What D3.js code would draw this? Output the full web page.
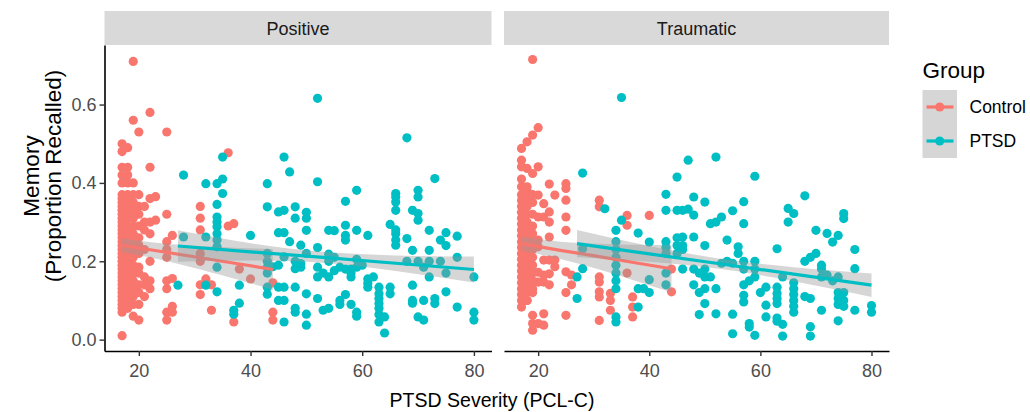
<!DOCTYPE html>
<html lang="en">
  <head>
    <meta charset="UTF-8" />
    <title>Memory by PTSD Severity</title>
    <style>
      body { margin: 0; background: #fff; }
      svg { display: block; font-family: 'Liberation Sans', Arial, sans-serif; }
      .tick-label { fill: #4d4d4d; font-size: 18px; }
    </style>
  </head>
  <body>
    <svg width="1030" height="412"></svg>
    <script src="https://d3js.org/d3.v7.min.js"></script>
    <script>
      // facets, groups, ticks
      const facets = ['Positive', 'Traumatic'];
      const groups = ['Control', 'PTSD'];
      const groupColors = ['#F8766D', '#00BFC4'];
      const xTicks = [20, 40, 60, 80];
      const yTicks = [0, 0.2, 0.4, 0.6];

      // points: [PCL-C, proportion recalled]
      const posControl = [
        [17,0.50],[17,0.48],[17,0.44],[17,0.42],[17,0.40],[17,0.37],[17,0.36],[17,0.35],[17,0.34],[17,0.33],
        [17,0.32],[17,0.31],[17,0.30],[17,0.29],[17,0.28],[17,0.27],[17,0.26],[17,0.25],[17,0.24],[17,0.23],
        [17,0.22],[17,0.21],[17,0.20],[17,0.19],[17,0.18],[17,0.17],[17,0.16],[17,0.15],[17,0.14],[17,0.13],
        [17,0.12],[17,0.11],[17,0.10],[17,0.09],[17,0.08],[17,0.07],[17,0.01],
        [18,0.49],[18,0.44],[18,0.42],[18,0.40],[18,0.37],[18,0.355],[18,0.34],[18,0.325],[18,0.31],[18,0.29],
        [18,0.275],[18,0.26],[18,0.245],[18,0.23],[18,0.215],[18,0.20],[18,0.185],[18,0.17],[18,0.155],[18,0.14],
        [18,0.125],[18,0.11],[18,0.095],[18,0.08],
        [19,0.71],[19,0.56],[19,0.40],[19,0.37],[19,0.35],[19,0.33],[19,0.31],[19,0.29],[19,0.27],[19,0.25],
        [19,0.23],[19,0.21],[19,0.19],[19,0.17],[19,0.15],[19,0.13],[19,0.11],[19,0.09],[19,0.06],
        [20,0.53],[20,0.37],[20,0.34],[20,0.32],[20,0.29],[20,0.26],[20,0.24],[20,0.22],[20,0.185],[20,0.17],
        [20,0.14],[20,0.12],[20,0.09],[20,0.05],
        [21,0.34],[21,0.30],[21,0.28],[21,0.23],[21,0.16],[21,0.14],[21,0.11],
        [22,0.58],[22,0.44],[22,0.36],[22,0.30],[22,0.27],[22,0.20],[22,0.15],[22,0.13],
        [23,0.365],[23,0.305],
        [25,0.53],[25,0.32],[25,0.25],[25,0.23],[25,0.21],[25,0.15],[25,0.13],[25,0.07],[25,0.05],
        [26,0.266],[26,0.156],[26,0.085],[26,0.07],
        [31,0.34],[31,0.31],[31,0.28],[31,0.22],[31,0.20],[31,0.14],[31,0.115],
        [32,0.155],[33,0.14],[33,0.075],
        [36,0.477],[36,0.29],[37,0.296],[37,0.045],[38,0.18],[40,0.155],
        [44,0.145],[44,0.07],[44,0.05]
      ];

      const posPTSD = [
        [27,0.139],[28,0.42],[28,0.262],[32,0.398],[32,0.262],[32,0.139],[34,0.398],[35,0.41],[35,0.466],[35,0.373],
        [34,0.345],[34,0.313],[34,0.30],[34,0.288],[34,0.27],[34,0.254],[34,0.237],[34,0.185],[34,0.122],[37,0.075],
        [37,0.065],[38,0.139],[38,0.093],[40,0.266],[43,0.398],[43,0.339],[43,0.22],[43,0.20],[43,0.185],[43,0.17],
        [43,0.134],[43,0.116],[44,0.186],[45,0.326],[46,0.33],[45,0.273],[46,0.273],[46,0.466],[47,0.428],[48,0.339],
        [48,0.31],[47,0.25],[45,0.19],[45,0.134],[46,0.134],[45,0.10],[46,0.10],[46,0.045],[48,0.181],[49,0.194],
        [48,0.134],[48,0.08],[48,0.07],[50,0.279],[50,0.325],[50,0.31],[49,0.241],[50,0.117],[50,0.065],[50,0.037],
        [52,0.616],[52,0.403],[52,0.235],[52,0.185],[52,0.16],[52,0.105],[53,0.17],[54,0.16],[53,0.075],[54,0.08],
        [54,0.218],[54,0.20],[54,0.279],[55,0.21],[55,0.176],[57,0.353],[57,0.292],[57,0.266],[57,0.254],[56,0.185],
        [56,0.10],[57,0.115],[57,0.18],[58,0.18],[58,0.16],[58,0.17],[59,0.381],[59,0.279],[59,0.205],[59,0.185],
        [59,0.07],[59,0.06],[61,0.266],[61,0.155],[61,0.144],[61,0.134],[63,0.134],[63,0.117],[63,0.105],[63,0.092],
        [63,0.08],[63,0.064],[63,0.045],[64,0.058],[64,0.017],[65,0.134],[65,0.117],[65,0.294],[66,0.373],[66,0.364],
        [66,0.351],[66,0.33],[66,0.28],[66,0.27],[66,0.254],[66,0.241],[68,0.515],[68,0.258],[70,0.381],[70,0.364],
        [69,0.33],[70,0.322],[70,0.305],[69,0.228],[69,0.139],[69,0.10],[69,0.093],[70,0.058],[71,0.05],[71,0.10],
        [72,0.279],[72,0.228],[72,0.16],[73,0.411],[73,0.105],[73,0.092],[74,0.254],[75,0.273],[75,0.24],[75,0.17],
        [75,0.122],[74,0.20],[77,0.264],[77,0.21],[77,0.083],[80,0.16],[80,0.07],[80,0.05],[68,0.20],[70,0.20],
        [71,0.185],[72,0.20],[50,0.22],[49,0.185],[46,0.211],[55,0.278],[48,0.20],[60,0.19],[56,0.09],[58,0.09],
        [62,0.16]
      ];

      const traControl = [
        [17,0.39],[17,0.37],[17,0.355],[17,0.34],[17,0.325],[17,0.31],[17,0.295],[17,0.28],[17,0.265],[17,0.25],
        [17,0.235],[17,0.22],[17,0.205],[17,0.19],[17,0.175],[17,0.16],[17,0.145],[17,0.13],[17,0.115],[17,0.10],
        [18,0.38],[18,0.36],[18,0.34],[18,0.32],[18,0.30],[18,0.28],[18,0.26],[18,0.24],[18,0.22],[18,0.20],
        [18,0.18],[18,0.16],[18,0.14],[18,0.12],[18,0.10],
        [19,0.37],[19,0.35],[19,0.32],[19,0.29],[19,0.27],[19,0.25],[19,0.23],[19,0.21],[19,0.19],[19,0.17],
        [19,0.15],[19,0.13],
        [19,0.715],[20,0.541],[19,0.522],[18,0.505],[17,0.488],[17,0.458],[17,0.441],[18,0.437],[19,0.424],[20,0.441],
        [17,0.41],[18,0.39],[22,0.397],[23,0.369],[25,0.398],[25,0.386],[25,0.356],[25,0.313],[25,0.279],[22,0.326],
        [21,0.347],[20,0.369],[22,0.30],[21,0.313],[20,0.313],[22,0.262],[20,0.254],[20,0.237],[21,0.203],[22,0.203],
        [23,0.203],[23,0.186],[22,0.168],[21,0.165],[20,0.172],[20,0.147],[21,0.147],[22,0.14],[19,0.12],[18,0.10],
        [17,0.083],[19,0.062],[21,0.066],[19,0.041],[20,0.041],[21,0.037],[19,0.024],[25,0.173],[26,0.165],[26,0.14],
        [25,0.12],[25,0.062],[31,0.356],[31,0.339],[31,0.16],[31,0.147],[31,0.122],[31,0.109],[31,0.049],[33,0.118],
        [33,0.10],[33,0.075],[36,0.317],[36,0.292],[37,0.109],[37,0.083],[37,0.058],[36,0.17],[40,0.317],[44,0.122],
        [44,0.18]
      ];

      const traPTSD = [
        [27,0.16],[27,0.105],[28,0.425],[28,0.232],[28,0.181],[32,0.334],[35,0.618],[35,0.305],[34,0.279],[34,0.25],
        [34,0.23],[34,0.21],[34,0.19],[34,0.17],[34,0.15],[34,0.13],[34,0.058],[34,0.045],[38,0.272],[38,0.13],
        [39,0.13],[38,0.083],[40,0.249],[40,0.153],[40,0.12],[43,0.371],[43,0.33],[43,0.25],[43,0.235],[43,0.22],
        [43,0.17],[43,0.14],[45,0.415],[47,0.458],[45,0.33],[46,0.33],[45,0.26],[45,0.24],[45,0.22],[46,0.23],
        [47,0.333],[48,0.364],[48,0.318],[50,0.351],[52,0.466],[59,0.417],[68,0.367],[55,0.329],[57,0.352],[57,0.296],
        [51,0.296],[52,0.30],[53,0.313],[65,0.335],[66,0.322],[65,0.30],[70,0.279],[72,0.271],[73,0.249],[74,0.266],
        [75,0.322],[75,0.309],[77,0.23],[77,0.181],[63,0.232],[68,0.20],[69,0.21],[70,0.22],[71,0.19],[71,0.18],
        [46,0.262],[48,0.262],[46,0.24],[50,0.24],[54,0.254],[56,0.237],[56,0.22],[54,0.20],[53,0.195],[55,0.195],
        [57,0.20],[57,0.18],[59,0.20],[59,0.18],[46,0.18],[48,0.18],[49,0.17],[50,0.18],[50,0.16],[51,0.16],
        [48,0.14],[50,0.13],[52,0.13],[49,0.12],[50,0.092],[49,0.064],[52,0.066],[55,0.015],[57,0.14],[58,0.15],
        [59,0.16],[57,0.113],[57,0.096],[58,0.041],[58,0.032],[59,0.011],[61,0.134],[61,0.088],[61,0.058],[63,0.134],
        [63,0.118],[63,0.105],[63,0.092],[63,0.055],[63,0.047],[64,0.039],[64,0.009],[66,0.145],[66,0.13],[66,0.115],
        [66,0.10],[66,0.085],[66,0.07],[68,0.11],[69,0.105],[69,0.033],[69,0.009],[71,0.075],[74,0.12],[74,0.105],
        [74,0.09],[75,0.12],[75,0.10],[75,0.085],[74,0.048],[77,0.075],[80,0.087],[80,0.07],[73,0.15],[74,0.16],
        [71,0.16],[72,0.165],[60,0.12],[55,0.065],[64,0.16]
      ];

      // linear fits with confidence band: [x, fit, lower, upper]
      const posControlFit = [[17,0.241,0.223,0.259],[24,0.225,0.204,0.246],[31,0.209,0.179,0.239],[38,0.193,0.152,0.234],[44,0.179,0.127,0.231]];
      const posPTSDFit = [[27,0.239,0.199,0.279],[40,0.224,0.202,0.246],[53,0.210,0.196,0.224],[66,0.195,0.175,0.215],[80,0.179,0.146,0.212]];
      const traControlFit = [[17,0.245,0.227,0.263],[24,0.228,0.206,0.250],[31,0.212,0.179,0.245],[38,0.195,0.148,0.242],[44,0.181,0.121,0.241]];
      const traPTSDFit = [[27,0.245,0.210,0.280],[40,0.219,0.199,0.239],[53,0.193,0.180,0.206],[66,0.167,0.149,0.185],[80,0.139,0.109,0.169]];

      const panelData = [
        { points: [posControl, posPTSD], fits: [posControlFit, posPTSDFit] },
        { points: [traControl, traPTSD], fits: [traControlFit, traPTSDFit] }
      ];

      const svg = d3.select('svg');
      const panelRanges = [[104.5, 491.5], [504, 889]];
      const panelTop = 45, panelBottom = 351;
      const pointR = 4.6;

      const y = d3.scaleLinear().domain([-0.029, 0.752]).range([panelBottom, panelTop]);

      facets.forEach((name, i) => {
        const x = d3.scaleLinear().domain([13.85, 83.15]).range(panelRanges[i]);
        const g = svg.append('g').attr('class', 'panel');

        // strip
        g.append('rect')
          .attr('x', panelRanges[i][0])
          .attr('y', 11)
          .attr('width', panelRanges[i][1] - panelRanges[i][0])
          .attr('height', 34)
          .attr('fill', '#d9d9d9');
        g.append('text')
          .attr('x', (panelRanges[i][0] + panelRanges[i][1]) / 2)
          .attr('y', 34.5)
          .attr('text-anchor', 'middle')
          .attr('font-size', 18)
          .attr('fill', '#1a1a1a')
          .text(name);

        // points
        panelData[i].points.forEach((pts, k) => {
          g.append('g')
            .selectAll('circle')
            .data(pts)
            .join('circle')
            .attr('cx', (d) => x(d[0]))
            .attr('cy', (d) => y(d[1]))
            .attr('r', pointR)
            .attr('fill', groupColors[k]);
        });

        // smooth: band then line per group
        panelData[i].fits.forEach((fit, k) => {
          g.append('path')
            .datum(fit)
            .attr('fill', '#999999')
            .attr('fill-opacity', 0.4)
            .attr('d', d3.area()
              .x((d) => x(d[0]))
              .y0((d) => y(d[2]))
              .y1((d) => y(d[3]))
              .curve(d3.curveNatural));
          g.append('path')
            .datum(fit)
            .attr('fill', 'none')
            .attr('stroke', groupColors[k])
            .attr('stroke-width', 3.2)
            .attr('d', d3.line().x((d) => x(d[0])).y((d) => y(d[1])));
        });

        // x axis
        const xAxis = g.append('g')
          .attr('transform', `translate(0,${panelBottom})`)
          .call(d3.axisBottom(x).tickValues(xTicks).tickSize(5).tickPadding(4).tickSizeOuter(0));
        xAxis.select('.domain').attr('stroke', '#000').attr('stroke-width', 1.6);
        xAxis.selectAll('.tick line').attr('stroke', '#333').attr('stroke-width', 1.4);
        xAxis.selectAll('.tick text')
          .attr('class', 'tick-label')
          .attr('font-size', null)
          .attr('font-family', null)
          .attr('fill', null)
          .attr('dy', '0.95em');

        if (i === 0) {
          const yAxis = g.append('g')
            .attr('transform', `translate(${panelRanges[0][0]},0)`)
            .call(d3.axisLeft(y).tickValues(yTicks).tickFormat(d3.format('.1f')).tickSize(5).tickPadding(3).tickSizeOuter(0));
          yAxis.select('.domain').attr('stroke', '#000').attr('stroke-width', 1.6);
          yAxis.selectAll('.tick line').attr('stroke', '#333').attr('stroke-width', 1.4);
          yAxis.selectAll('.tick text')
            .attr('class', 'tick-label')
            .attr('font-size', null)
            .attr('font-family', null)
            .attr('fill', null);
        }
      });

      // axis titles
      svg.append('text')
        .attr('x', 492)
        .attr('y', 407)
        .attr('text-anchor', 'middle')
        .attr('font-size', 19.5)
        .text('PTSD Severity (PCL-C)');

      const yTitle = svg.append('text')
        .attr('transform', 'translate(39,176) rotate(-90)')
        .attr('text-anchor', 'middle')
        .attr('font-size', 22.5);
      yTitle.append('tspan').attr('x', 0).attr('y', 0).text('Memory');
      yTitle.append('tspan').attr('x', 0).attr('y', 22).text('(Proportion Recalled)');

      // legend
      const legend = svg.append('g').attr('transform', 'translate(922.5,0)');
      legend.append('text')
        .attr('x', 0)
        .attr('y', 78)
        .attr('font-size', 22.5)
        .text('Group');
      groups.forEach((name, k) => {
        const cy = 107 + k * 34;
        legend.append('rect')
          .attr('x', 0).attr('y', cy - 17)
          .attr('width', 34.5).attr('height', 34)
          .attr('fill', '#d6d6d6');
        legend.append('line')
          .attr('x1', 4).attr('x2', 31)
          .attr('y1', cy).attr('y2', cy)
          .attr('stroke', groupColors[k])
          .attr('stroke-width', 3.2);
        legend.append('circle')
          .attr('cx', 17.25).attr('cy', cy)
          .attr('r', pointR)
          .attr('fill', groupColors[k]);
        legend.append('text')
          .attr('x', 47)
          .attr('y', cy)
          .attr('dy', '0.35em')
          .attr('font-size', 17.5)
          .text(name);
      });
    </script>
  </body>
</html>
